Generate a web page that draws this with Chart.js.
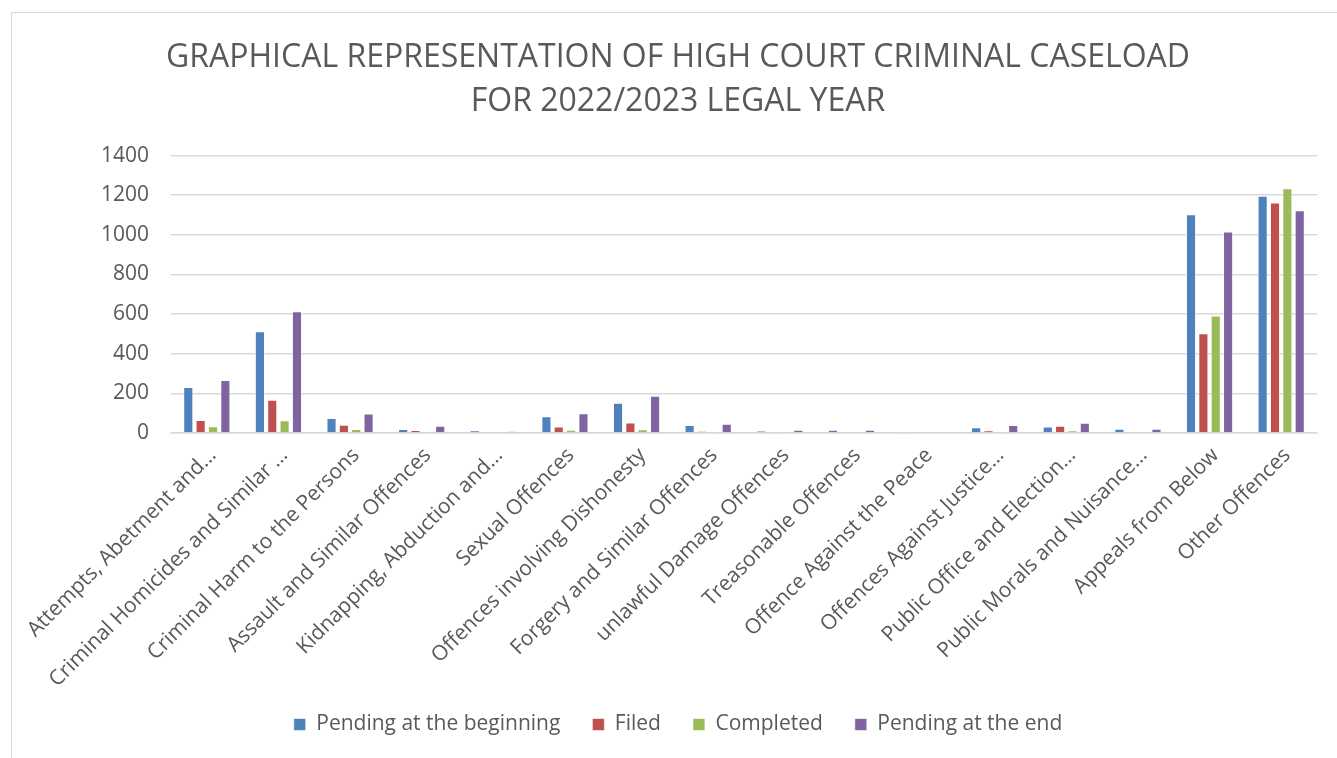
<!DOCTYPE html>
<html>
<head>
<meta charset="utf-8">
<script src="https://cdn.jsdelivr.net/npm/chart.js@4"></script>
<style>
  html, body { margin: 0; padding: 0; background: #fff; overflow: hidden; }
  #frame { position: absolute; left: 11px; top: 12px; width: 1340px; height: 760px; border: 1.5px solid #d9d9d9; box-sizing: border-box; }
  #wrap { position: absolute; left: 0; top: 0; width: 1337px; height: 758px; }
</style>
</head>
<body>
<div id="frame"></div>
<div id="wrap"><canvas id="c"></canvas></div>
<script>
const categories = [
  "Attempts, Abetment and…",
  "Criminal Homicides and Similar …",
  "Criminal Harm to the Persons",
  "Assault and Similar Offences",
  "Kidnapping, Abduction and…",
  "Sexual Offences",
  "Offences involving Dishonesty",
  "Forgery and Similar Offences",
  "unlawful Damage Offences",
  "Treasonable Offences",
  "Offence Against the Peace",
  "Offences Against Justice…",
  "Public Office and Election…",
  "Public Morals and Nuisance…",
  "Appeals from Below",
  "Other Offences"
];
const pendingBeginning = [232, 514, 76, 20, 13, 84, 153, 40, 12, 17, 3, 29, 33, 22, 1104, 1197];
const filed            = [66, 168, 42, 15, 0, 33, 53, 9, 3, 0, 0, 14, 36, 0, 504, 1163];
const completed        = [34, 64, 20, 0, 0, 17, 19, 3, 0, 0, 0, 3, 14, 0, 593, 1235];
const pendingEnd       = [267, 615, 99, 37, 8, 100, 188, 47, 16, 17, 4, 41, 52, 22, 1017, 1124];
const yTicks = [0, 200, 400, 600, 800, 1000, 1200, 1400];
const titleLines = ["GRAPHICAL REPRESENTATION OF HIGH COURT CRIMINAL CASELOAD", "FOR 2022/2023 LEGAL YEAR"];

const FONT = "'Open Sans', sans-serif";
const TXT = "#595959";
const ds = (label, data, color) => ({
  label, data, backgroundColor: color, borderColor: "rgba(255,255,255,0.6)", borderWidth: 1,
  categoryPercentage: 0.69, barPercentage: 0.82
});

// let the rotated category labels extend below the axis box instead of being clipped
const noLabelClip = {
  id: "noLabelClip",
  beforeDraw(chart) {
    const x = chart.scales.x;
    if (x) x._computeLabelArea = () => undefined;
  }
};

new Chart(document.getElementById("c"), {
  type: "bar",
  plugins: [noLabelClip],
  data: {
    labels: categories,
    datasets: [
      ds("Pending at the beginning", pendingBeginning, "#4F81BD"),
      ds("Filed", filed, "#C0504D"),
      ds("Completed", completed, "#9BBB59"),
      ds("Pending at the end", pendingEnd, "#8064A2")
    ]
  },
  options: {
    responsive: true,
    maintainAspectRatio: false,
    animation: false,
    layout: { padding: { left: 39, right: 20, top: 0, bottom: 13 } },
    plugins: {
      title: {
        display: true, text: titleLines, color: TXT,
        font: { family: FONT, size: 32, weight: "normal", lineHeight: 1.4 },
        padding: { top: 35, bottom: 31 }
      },
      legend: {
        position: "bottom",
        labels: {
          color: TXT, boxWidth: 12, boxHeight: 12, padding: 32,
          font: { family: FONT, size: 21 }
        }
      },
      tooltip: { enabled: false }
    },
    scales: {
      x: {
        afterFit: (axis) => { axis.height = 249; },
        grid: { display: false },
        border: { color: "#d9d9d9", width: 1.5 },
        ticks: {
          color: TXT, minRotation: 45, maxRotation: 45, autoSkip: false,
          font: { family: FONT, size: 21 }, padding: 2, labelOffset: 6
        }
      },
      y: {
        min: 0, max: 1400,
        afterFit: (axis) => { axis.width = 132; },
        afterBuildTicks: (axis) => { axis.ticks = yTicks.map(v => ({ value: v })); },
        grid: { color: "#d9d9d9", lineWidth: 1.5, drawTicks: false },
        border: { display: false },
        ticks: {
          color: TXT, font: { family: FONT, size: 21 }, padding: 22,
          callback: (v) => String(v)
        }
      }
    }
  }
});
</script>
</body>
</html>
